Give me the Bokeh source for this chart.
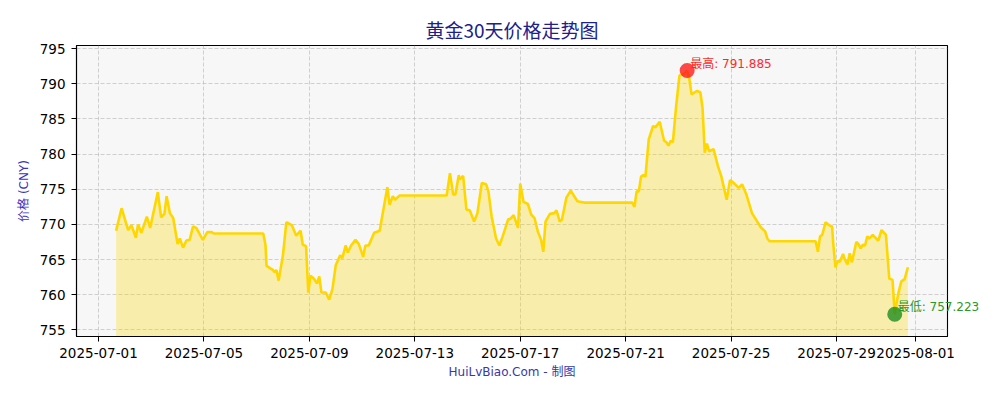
import pandas as pd
from bokeh.plotting import figure
from bokeh.models import (ColumnDataSource, Range1d, FixedTicker, DatetimeTickFormatter,
                          Label, Title)
from bokeh.embed import file_html
from bokeh.resources import INLINE

# ---------------- data ----------------
times = [
    "2025-07-01 16:00", "2025-07-01 21:00", "2025-07-02 03:00", "2025-07-02 06:00", "2025-07-02 10:00",
    "2025-07-02 12:00", "2025-07-02 15:00", "2025-07-02 20:00", "2025-07-02 23:00", "2025-07-03 06:00",
    "2025-07-03 09:00", "2025-07-03 12:00", "2025-07-03 14:00", "2025-07-03 17:00", "2025-07-03 20:00",
    "2025-07-04 00:00", "2025-07-04 02:00", "2025-07-04 05:00", "2025-07-04 08:00", "2025-07-04 11:00",
    "2025-07-04 14:00", "2025-07-04 17:00", "2025-07-04 23:00", "2025-07-05 03:00", "2025-07-05 07:00",
    "2025-07-05 09:00", "2025-07-07 06:00", "2025-07-07 08:00", "2025-07-07 09:00", "2025-07-07 15:00",
    "2025-07-07 16:00", "2025-07-07 18:00", "2025-07-07 20:00", "2025-07-08 00:00", "2025-07-08 03:00",
    "2025-07-08 08:00", "2025-07-08 12:00", "2025-07-08 16:00", "2025-07-08 18:00", "2025-07-08 21:00",
    "2025-07-08 23:00", "2025-07-09 01:00", "2025-07-09 04:00", "2025-07-09 07:00", "2025-07-09 09:00",
    "2025-07-09 11:00", "2025-07-09 15:00", "2025-07-09 18:00", "2025-07-09 21:00", "2025-07-10 00:00",
    "2025-07-10 04:00", "2025-07-10 06:00", "2025-07-10 09:00", "2025-07-10 11:00", "2025-07-10 14:00",
    "2025-07-10 18:00", "2025-07-10 21:00", "2025-07-11 01:00", "2025-07-11 03:00", "2025-07-11 06:00",
    "2025-07-11 11:00", "2025-07-11 16:00", "2025-07-11 23:00", "2025-07-12 01:00", "2025-07-12 04:00",
    "2025-07-12 06:00", "2025-07-12 10:00", "2025-07-14 05:00", "2025-07-14 08:00", "2025-07-14 11:00",
    "2025-07-14 13:00", "2025-07-14 16:00", "2025-07-14 17:00", "2025-07-14 20:00", "2025-07-14 23:00",
    "2025-07-15 02:00", "2025-07-15 06:00", "2025-07-15 09:00", "2025-07-15 13:00", "2025-07-15 17:00",
    "2025-07-15 19:00", "2025-07-15 22:00", "2025-07-16 02:00", "2025-07-16 05:00", "2025-07-16 08:00",
    "2025-07-16 13:00", "2025-07-16 15:00", "2025-07-16 18:00", "2025-07-16 22:00", "2025-07-17 00:00",
    "2025-07-17 03:00", "2025-07-17 07:00", "2025-07-17 10:00", "2025-07-17 13:00", "2025-07-17 16:00",
    "2025-07-17 19:00", "2025-07-17 21:00", "2025-07-17 23:00", "2025-07-18 03:00", "2025-07-18 07:00",
    "2025-07-18 09:00", "2025-07-18 12:00", "2025-07-18 14:00", "2025-07-18 18:00", "2025-07-18 22:00",
    "2025-07-19 04:00", "2025-07-19 10:00", "2025-07-21 06:00", "2025-07-21 08:00", "2025-07-21 10:00",
    "2025-07-21 12:00", "2025-07-21 14:00", "2025-07-21 16:00", "2025-07-21 18:00", "2025-07-21 21:00",
    "2025-07-22 01:00", "2025-07-22 03:00", "2025-07-22 07:00", "2025-07-22 11:00", "2025-07-22 13:00",
    "2025-07-22 15:00", "2025-07-22 17:00", "2025-07-22 19:00", "2025-07-22 22:00", "2025-07-23 01:00",
    "2025-07-23 05:00", "2025-07-23 08:00", "2025-07-23 10:00", "2025-07-23 12:00", "2025-07-23 15:00",
    "2025-07-23 17:00", "2025-07-23 20:00", "2025-07-23 22:00", "2025-07-24 00:00", "2025-07-24 02:00",
    "2025-07-24 04:00", "2025-07-24 08:00", "2025-07-24 12:00", "2025-07-24 15:00", "2025-07-24 20:00",
    "2025-07-24 23:00", "2025-07-25 03:00", "2025-07-25 07:00", "2025-07-25 10:00", "2025-07-25 14:00",
    "2025-07-25 19:00", "2025-07-26 03:00", "2025-07-26 07:00", "2025-07-26 09:00", "2025-07-26 11:00",
    "2025-07-28 05:00", "2025-07-28 07:00", "2025-07-28 09:00", "2025-07-28 11:00", "2025-07-28 14:00",
    "2025-07-28 17:00", "2025-07-28 20:00", "2025-07-28 21:00", "2025-07-28 23:00", "2025-07-29 01:00",
    "2025-07-29 03:00", "2025-07-29 06:00", "2025-07-29 07:00", "2025-07-29 10:00", "2025-07-29 12:00",
    "2025-07-29 14:00", "2025-07-29 18:00", "2025-07-29 20:00", "2025-07-29 22:00", "2025-07-30 00:00",
    "2025-07-30 02:00", "2025-07-30 04:00", "2025-07-30 06:00", "2025-07-30 09:00", "2025-07-30 12:00",
    "2025-07-30 14:00", "2025-07-30 17:00", "2025-07-30 21:00", "2025-07-31 00:00", "2025-07-31 03:00",
    "2025-07-31 05:00", "2025-07-31 08:00", "2025-07-31 11:00", "2025-07-31 14:00", "2025-07-31 17:00",
]

prices = [
    769.1, 772.3, 769.2, 769.9, 768.1,
    770.0, 768.8, 771.1, 769.5, 774.6,
    771.0, 771.5, 774.0, 771.6, 770.9,
    767.2, 768.0, 766.7, 767.7, 767.8,
    769.7, 769.5, 767.8, 768.9, 768.9,
    768.7, 768.7, 767.1, 764.1, 763.5,
    763.2, 763.5, 762.0, 765.7, 770.3,
    769.9, 768.4, 769.1, 767.1, 766.9,
    760.3, 762.7, 762.3, 761.6, 762.6,
    760.3, 760.3, 759.3, 760.8, 764.2,
    765.6, 765.2, 767.0, 766.0, 767.0,
    767.8, 767.2, 765.4, 767.0, 767.0,
    768.8, 769.1, 775.3, 772.8, 774.0,
    773.5, 774.1, 774.1, 777.3, 774.2,
    774.3, 777.0, 776.4, 776.9, 772.1,
    772.0, 770.4, 771.6, 775.9, 775.7,
    774.7, 771.1, 768.0, 767.0, 768.3,
    770.7, 770.8, 771.3, 769.5, 775.8,
    773.2, 772.9, 771.4, 770.9, 769.0,
    767.8, 766.1, 770.4, 771.5, 771.6,
    772.0, 770.4, 770.7, 773.8, 774.8,
    773.3, 773.1, 773.1, 772.5, 774.7,
    774.7, 776.8, 777.0, 776.8, 782.1,
    784.0, 783.8, 784.6, 781.9, 781.7,
    781.2, 781.9, 781.7, 786.9, 791.2,
    791.4, 791.885, 790.7, 788.5, 788.8,
    789.0, 788.8, 786.6, 780.2, 781.5,
    780.4, 780.7, 778.3, 776.9, 773.5,
    776.3, 775.8, 775.2, 775.7, 774.2,
    771.6, 769.6, 769.0, 768.0, 767.6,
    767.6, 766.1, 768.3, 768.5, 770.3,
    769.9, 769.7, 767.3, 763.9, 764.8,
    764.7, 765.8, 765.2, 764.3, 765.9,
    764.6, 767.5, 767.2, 766.6, 767.1,
    767.0, 768.3, 768.0, 768.5, 768.0,
    767.7, 769.2, 768.5, 762.3, 762.1,
    757.223, 760.0, 761.9, 762.2, 763.9,
]

x_tick_dates = ["2025-07-01", "2025-07-05", "2025-07-09", "2025-07-13", "2025-07-17",
                "2025-07-21", "2025-07-25", "2025-07-29", "2025-08-01"]
y_ticks = [755, 760, 765, 770, 775, 780, 785, 790, 795]

title_text = "黄金30天价格走势图"
y_label = "价格 (CNY)"
x_label = "HuiLvBiao.Com - 制图"

# ---------------- build ----------------
t = pd.to_datetime(times)
src = ColumnDataSource(dict(t=t, p=prices))

span = t.max() - t.min()
x_start = t.min() - 0.05 * span
x_end = t.max() + 0.05 * span
y_start, y_end = 754.05, 795.45

MIXED = "DejaVu Sans, Noto Sans CJK SC"

p = figure(width=1000, height=400, output_backend="svg", toolbar_location=None,
           x_range=Range1d(x_start, x_end), y_range=Range1d(y_start, y_end),
           min_border_left=76, min_border_right=53, min_border_top=45, min_border_bottom=64)

p.title = Title(text=title_text, align="center", text_font="Noto Sans CJK SC",
                text_font_size="19px", text_font_style="normal", text_color="#20208a",
                standoff=5)

p.background_fill_color = "#f7f7f7"
p.border_fill_color = "white"
p.outline_line_color = "black"
p.outline_line_width = 1.1

# fill + line
p.varea(x="t", y1=y_start, y2="p", source=src, fill_color="#FFD700", fill_alpha=0.3)
p.line(x="t", y="p", source=src, line_color="#FFD700", line_width=2.6)

# extremes
imax = max(range(len(prices)), key=lambda i: prices[i])
imin = min(range(len(prices)), key=lambda i: prices[i])
p.scatter([t[imax]], [prices[imax]], size=15, fill_color="#ff1a1a", fill_alpha=0.8, line_color=None)
p.scatter([t[imin]], [prices[imin]], size=15, fill_color="#1e8c1e", fill_alpha=0.8, line_color=None)

p.add_layout(Label(x=t[imax], y=prices[imax], text=f"最高: {prices[imax]:.3f}",
                   x_offset=3, y_offset=0, text_baseline="bottom", text_align="left",
                   text_font=MIXED, text_font_size="12px",
                   text_color="#ff2a2a"))
# placed in a side panel so that it is not clipped at the frame edge
p.add_layout(Label(x=t[imin], y=prices[imin], text=f"最低: {prices[imin]:.3f}",
                   x_offset=3, y_offset=0, text_baseline="bottom", text_align="left",
                   text_font=MIXED, text_font_size="12px",
                   text_color="#2a992a"), "below")

# axes
xt = [pd.Timestamp(d).value // 10**6 for d in x_tick_dates]
p.xaxis.ticker = FixedTicker(ticks=xt)
p.xaxis.formatter = DatetimeTickFormatter(days="%Y-%m-%d", months="%Y-%m-%d",
                                          hours="%Y-%m-%d", years="%Y-%m-%d")
p.yaxis.ticker = FixedTicker(ticks=y_ticks)

for ax in (p.xaxis, p.yaxis):
    ax.axis_line_color = "black"
    ax.axis_line_width = 1.1
    ax.major_tick_line_color = "black"
    ax.major_tick_out = 5
    ax.major_tick_in = 0
    ax.minor_tick_line_color = None
    ax.major_label_text_font = "DejaVu Sans"
    ax.major_label_text_font_size = "13.5px"
    ax.major_label_text_color = "black"
    ax.axis_label_text_font = MIXED
    ax.axis_label_text_font_style = "normal"
    ax.axis_label_text_font_size = "12px"

p.xaxis.major_label_standoff = 6
p.yaxis.major_label_standoff = 6
p.xaxis.axis_label = x_label
p.xaxis.axis_label_text_color = "#3838a8"
p.xaxis.axis_label_standoff = 4
p.yaxis.axis_label = y_label
p.yaxis.axis_label_text_color = "#3535c0"
p.yaxis.axis_label_standoff = 6

p.grid.grid_line_color = "#b0b0b0"
p.grid.grid_line_alpha = 0.7
p.grid.grid_line_dash = "4 2"
p.grid.grid_line_width = 0.8

open("out.html", "w").write(file_html(p, INLINE))
